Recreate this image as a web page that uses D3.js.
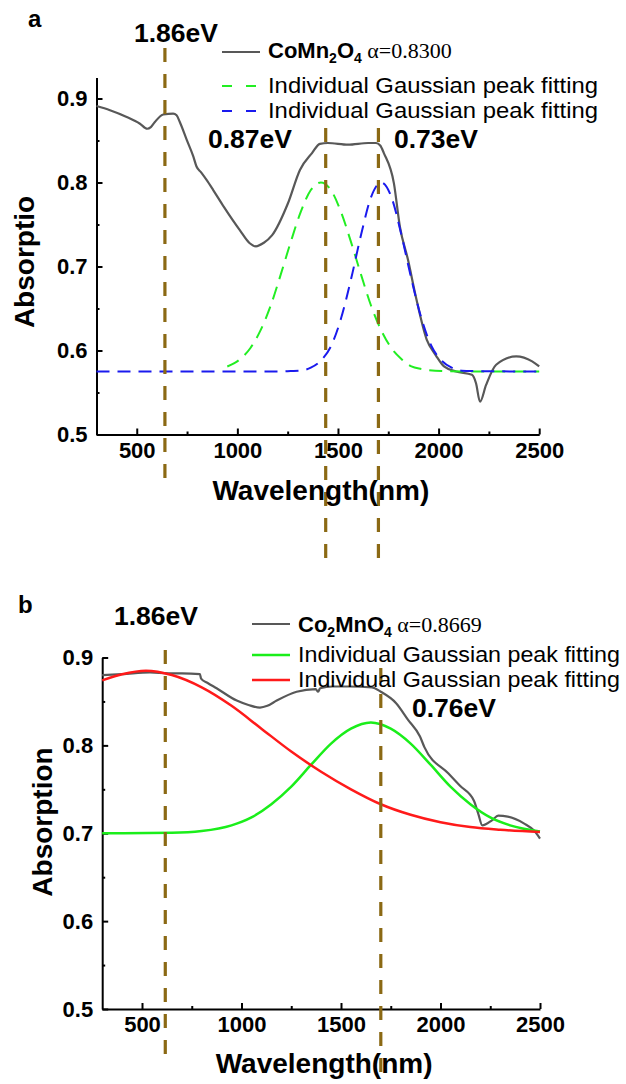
<!DOCTYPE html>
<html>
<head>
<meta charset="utf-8">
<script src="https://cdn.jsdelivr.net/npm/d3@7"></script>
<style>
  body { margin: 0; background: #fff; }
  text { font-family: "Liberation Sans", Arial, sans-serif; }
  .axis .domain, .axis line { stroke: #000; stroke-width: 2px; }
  .axis text { font-size: 22px; font-weight: bold; fill: #000; }
</style>
</head>
<body>
<svg id="chart" width="626" height="1084"></svg>
<script>
// ticks
var xTicks = [500, 1000, 1500, 2000, 2500];
var xMinor = [750, 1250, 1750, 2250];
var yTicks = [0.5, 0.6, 0.7, 0.8, 0.9];
var yMinor = [0.55, 0.65, 0.75, 0.85];

// panel a : CoMn2O4  (wavelength nm, absorption)
var coMn2O4 = [[300,0.891],[367,0.886],[450,0.878],[516,0.870],[552,0.864],[570,0.866],[590,0.872],
  [632,0.881],[681,0.882],[698,0.880],[714,0.872],[748,0.851],[781,0.831],[797,0.819],[820,0.812],
  [847,0.803],[880,0.791],[933,0.771],[1013,0.743],[1060,0.728],[1092,0.724],[1130,0.728],[1172,0.737],
  [1251,0.775],[1311,0.815],[1371,0.835],[1410,0.846],[1450,0.847],[1550,0.845],[1650,0.847],[1689,0.847],
  [1710,0.844],[1728,0.835],[1778,0.799],[1808,0.747],[1848,0.708],[1887,0.664],[1941,0.613],[1987,0.594],
  [2027,0.581],[2087,0.575],[2166,0.571],[2186,0.561],[2206,0.539],[2236,0.559],[2286,0.583],[2386,0.593],
  [2465,0.587],[2500,0.581]];
var coMnFit1 = [[950,0.581],[1015,0.590],[1065,0.603],[1115,0.624],[1165,0.653],[1215,0.690],[1265,0.729],
  [1315,0.765],[1365,0.791],[1415,0.800],[1465,0.791],[1515,0.765],[1565,0.729],[1615,0.690],[1665,0.653],
  [1715,0.624],[1765,0.603],[1815,0.590],[1865,0.581],[1915,0.578],[2015,0.5755],[2200,0.575],[2500,0.575]];
var coMnFit2 = [[300,0.575],[1200,0.575],[1265,0.5755],[1315,0.576],[1365,0.5795],[1415,0.588],[1465,0.605],
  [1515,0.638],[1565,0.685],[1615,0.738],[1665,0.783],[1715,0.800],[1765,0.783],[1815,0.738],[1865,0.685],
  [1915,0.638],[1965,0.605],[2015,0.588],[2065,0.5795],[2115,0.576],[2165,0.5755],[2500,0.575]];
var peaksA = [{nm: 640, label: "1.86eV"}, {nm: 1439, label: "0.87eV"}, {nm: 1701, label: "0.73eV"}];

// panel b : Co2MnO4
var co2MnO4 = [[300,0.880],[400,0.881],[540,0.883],[632,0.882],[700,0.882],[791,0.881],[797,0.876],
  [830,0.871],[875,0.865],[976,0.851],[1035,0.846],[1093,0.843],[1130,0.845],[1177,0.851],[1277,0.861],
  [1373,0.864],[1385,0.861],[1395,0.865],[1457,0.867],[1545,0.867],[1656,0.866],[1700,0.861],[1777,0.848],
  [1837,0.829],[1897,0.810],[1919,0.798],[2040,0.768],[2098,0.754],[2168,0.737],[2190,0.722],[2210,0.709],
  [2260,0.715],[2290,0.720],[2338,0.719],[2421,0.711],[2470,0.703],[2500,0.694]];
var co2MnFit1 = [[300,0.700],[650,0.7006],[800,0.7026],[950,0.709],[1050,0.718],[1150,0.733],[1250,0.753],
  [1350,0.778],[1450,0.802],[1550,0.819],[1650,0.826],[1750,0.819],[1850,0.802],[1950,0.778],[2050,0.753],
  [2150,0.733],[2250,0.718],[2350,0.709],[2500,0.702]];
var co2MnFit2 = [[300,0.874],[400,0.881],[520,0.885],[650,0.880],[800,0.866],[950,0.845],[1100,0.819],
  [1250,0.793],[1400,0.770],[1550,0.750],[1700,0.733],[1850,0.721],[2000,0.7125],[2150,0.707],[2300,0.704],
  [2500,0.7015]];
var peaksB = [{nm: 617, label: "1.86eV"}, {nm: 1700, label: "0.76eV"}];

var svg = d3.select("#chart");

function drawPanel(p) {
  var g = svg.append("g");
  var x = d3.scaleLinear().domain([300, 2500]).range(p.xr);
  var y = d3.scaleLinear().domain(p.yd).range(p.yr);
  var line = d3.line().x(function(d) { return x(d[0]); }).y(function(d) { return y(d[1]); })
    .curve(d3.curveMonotoneX);

  // axes
  g.append("g").attr("class", "axis").attr("transform", "translate(0," + p.yr[0] + ")")
    .call(d3.axisBottom(x).tickValues(xTicks).tickSizeInner(-6).tickSizeOuter(0).tickPadding(p.xPad).tickFormat(d3.format("d")));
  g.append("g").attr("class", "axis").attr("transform", "translate(0," + p.yr[0] + ")")
    .call(d3.axisBottom(x).tickValues(xMinor).tickSizeInner(-3).tickSizeOuter(0).tickFormat(""))
    .select(".domain").remove();
  g.append("g").attr("class", "axis").attr("transform", "translate(" + p.xr[0] + ",0)")
    .call(d3.axisLeft(y).tickValues(yTicks).tickSizeInner(-6).tickSizeOuter(0).tickPadding(9).tickFormat(d3.format(".1f")));
  g.append("g").attr("class", "axis").attr("transform", "translate(" + p.xr[0] + ",0)")
    .call(d3.axisLeft(y).tickValues(yMinor).tickSizeInner(-3).tickSizeOuter(0).tickFormat(""))
    .select(".domain").remove();

  // curves
  p.series.forEach(function(s) {
    g.append("path").datum(s.data)
      .attr("fill", "none")
      .attr("stroke", s.color)
      .attr("stroke-width", s.width)
      .attr("stroke-dasharray", s.dash || null)
      .attr("d", line);
  });

  // peak markers
  p.peaks.forEach(function(pk, i) {
    g.append("line")
      .attr("x1", x(pk.nm)).attr("x2", x(pk.nm))
      .attr("y1", p.vl[i][0]).attr("y2", p.vl[i][1])
      .attr("stroke", "#8b6914").attr("stroke-width", 3.2)
      .attr("stroke-dasharray", "14,12");
    g.append("text")
      .attr("x", p.vt[i][0]).attr("y", p.vt[i][1])
      .attr("font-size", 26.5).attr("font-weight", "bold")
      .text(pk.label);
  });

  // axis titles
  g.append("text")
    .attr("x", (p.xr[0] + p.xr[1]) / 2 + 3).attr("y", p.xt)
    .attr("text-anchor", "middle").attr("font-size", 28).attr("font-weight", "bold")
    .text("Wavelength(nm)");
  g.append("text")
    .attr("transform", "translate(" + p.yt[0] + "," + p.yt[1] + ") rotate(-90)")
    .attr("text-anchor", "middle").attr("font-size", 28).attr("font-weight", "bold")
    .text(p.yLabel);

  // panel letter
  g.append("text").attr("x", p.letter[0]).attr("y", p.letter[1])
    .attr("font-size", 24).attr("font-weight", "bold").text(p.letterText);

  // legend
  var lg = g.append("g");
  p.series.forEach(function(s, i) {
    var ly = p.leg.y[i];
    lg.append("line")
      .attr("x1", p.leg.x).attr("x2", p.leg.x + 38)
      .attr("y1", ly).attr("y2", ly)
      .attr("stroke", s.color).attr("stroke-width", s.width)
      .attr("stroke-dasharray", s.dash ? "10,14" : null);
    var t = lg.append("text").attr("x", p.leg.x + 46).attr("y", ly + p.leg.dy[i]);
    if (s.formula) {
      s.formula.forEach(function(part) {
        t.append("tspan")
          .attr("font-size", part[1] ? 14 : 22)
          .attr("font-weight", "bold")
          .attr("dy", part[1] ? 5 : (part[2] ? -5 : 0))
          .text(part[0]);
      });
      t.append("tspan").attr("dy", -5).attr("font-size", 22)
        .style("font-family", "'Liberation Serif', 'Times New Roman', serif")
        .text(" " + s.alpha);
    } else {
      t.attr("font-size", p.leg.fs)
        .attr("textLength", p.leg.len).attr("lengthAdjust", "spacingAndGlyphs")
        .text(s.name);
    }
  });
}

drawPanel({
  xr: [96.5, 539.2], yd: [0.5, 0.925], yr: [434.5, 77.5], xPad: 8,
  series: [
    {data: coMn2O4, color: "#585858", width: 2.2, formula: [["CoMn"], ["2", 1], ["O", 0, 1], ["4", 1]], alpha: "\u03b1=0.8300"},
    {data: coMnFit1, color: "#22ee22", width: 2, dash: "13,8", name: "Individual Gaussian peak fitting"},
    {data: coMnFit2, color: "#1a1aee", width: 2, dash: "13,8", name: "Individual Gaussian peak fitting"}
  ],
  peaks: peaksA,
  vl: [[48, 480], [128, 560], [128, 560]],
  vt: [[134, 42], [208, 148], [394, 148]],
  xt: 500, yt: [34, 262], yLabel: "Absorptio",
  letter: [28, 27], letterText: "a",
  leg: {x: 222, y: [52, 86, 111], dy: [6, 7, 7], fs: 21.5, len: 330}
});

drawPanel({
  xr: [102.2, 540], yd: [0.5, 0.9], yr: [1009, 657.5], xPad: 7,
  series: [
    {data: co2MnO4, color: "#585858", width: 2.2, formula: [["Co"], ["2", 1], ["MnO", 0, 1], ["4", 1]], alpha: "\u03b1=0.8669"},
    {data: co2MnFit1, color: "#1aee1a", width: 2.5, name: "Individual Gaussian peak fitting"},
    {data: co2MnFit2, color: "#ff1a1a", width: 2.5, name: "Individual Gaussian peak fitting"}
  ],
  peaks: peaksB,
  vl: [[650, 1057], [668, 1075]],
  vt: [[114, 625], [412, 717]],
  xt: 1073, yt: [52, 822], yLabel: "Absorption",
  letter: [18, 613], letterText: "b",
  leg: {x: 252, y: [624, 655, 680], dy: [8, 7, 7], fs: 21.5, len: 322}
});
</script>
</body>
</html>
